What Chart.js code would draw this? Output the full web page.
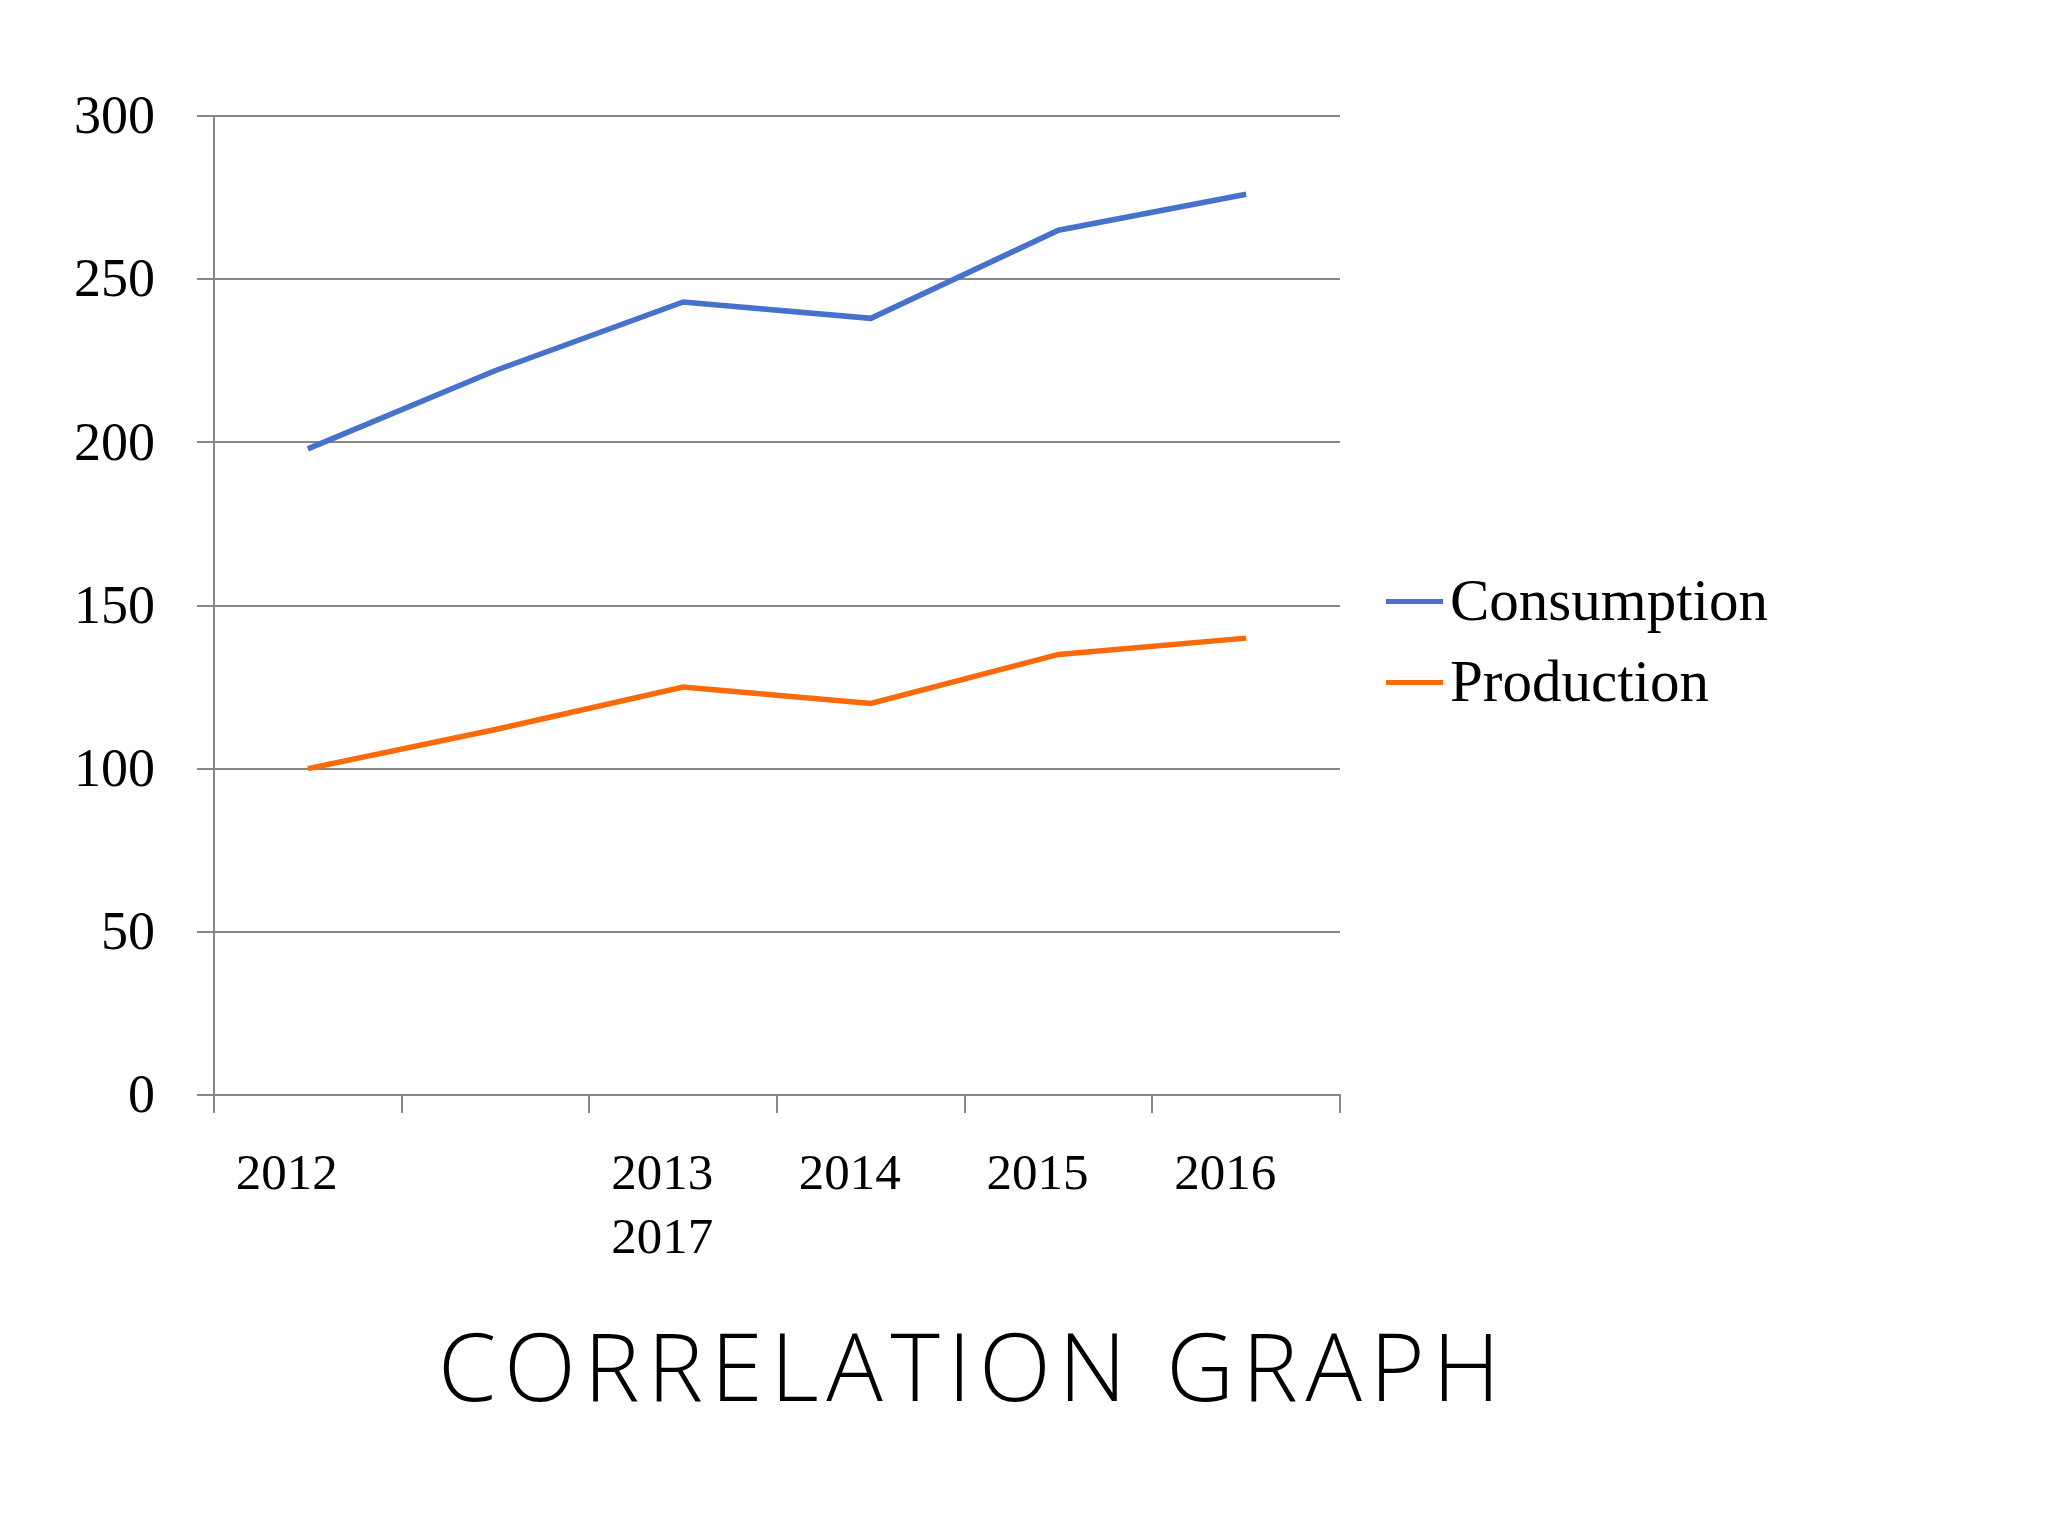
<!DOCTYPE html>
<html>
<head>
<meta charset="utf-8">
<title>Correlation graph</title>
<script src="https://cdn.jsdelivr.net/npm/chart.js@4/dist/chart.umd.min.js"></script>
<style>
  html, body { margin: 0; padding: 0; background: #fff; }
  #wrap { position: relative; width: 2048px; height: 1536px; overflow: hidden; }
  #chart { position: absolute; left: 0; top: 0; width: 2048px; height: 1536px; }
  .legend-row { position: absolute; left: 1386px; height: 58px; }
  .legend-row .swatch { position: absolute; left: 0; width: 57px; height: 5px; }
  .legend-row .label {
    position: absolute; left: 64px; top: 0;
    font-family: "Liberation Serif", serif; font-size: 59px; line-height: 58px;
    color: #000; white-space: nowrap;
  }
  #title {
    position: absolute; left: 438px; top: 1318px;
    font-family: "Open Sans", sans-serif; font-weight: 300; font-size: 94px; line-height: 94px;
    color: #000; white-space: nowrap;
  }
</style>
</head>
<body>
<div id="wrap">
  <canvas id="chart" width="2048" height="1536"></canvas>
  <div id="legend"></div>
  <div id="title">CORRELATION GRAPH</div>
</div>
<script>
  const categories = ['2012', '', ['2013', '2017'], '2014', '2015', '2016'];
  const consumption = [198, 222, 243, 238, 265, 276];
  const production = [100, 112, 125, 120, 135, 140];
  const seriesNames = ['Consumption', 'Production'];
  const seriesColors = ['#4672CC', '#FB6A0A'];

  const gridColor = '#878787';

  function buildLegend() {
    const legend = document.getElementById('legend');
    const rowTops = [571, 652];
    seriesNames.forEach((name, i) => {
      const row = document.createElement('div');
      row.className = 'legend-row';
      row.style.top = rowTops[i] + 'px';
      const swatch = document.createElement('div');
      swatch.className = 'swatch';
      swatch.style.top = '28px';
      swatch.style.background = seriesColors[i];
      const label = document.createElement('div');
      label.className = 'label';
      label.textContent = name;
      row.appendChild(swatch);
      row.appendChild(label);
      legend.appendChild(row);
    });
  }

  // spread the title so it spans the same width as the picture
  function fitTitle() {
    const el = document.getElementById('title');
    const target = 1062;
    const text = el.textContent;
    el.style.letterSpacing = '0px';
    const natural = el.getBoundingClientRect().width;
    const gaps = text.length - 1;
    el.style.letterSpacing = ((target - natural) / gaps).toFixed(2) + 'px';
  }

  const ctx = document.getElementById('chart');
  new Chart(ctx, {
    type: 'line',
    data: {
      labels: categories,
      datasets: [
        {
          label: seriesNames[0],
          data: consumption,
          borderColor: seriesColors[0],
          backgroundColor: seriesColors[0],
          borderWidth: 5.5,
          pointRadius: 0,
          tension: 0,
        },
        {
          label: seriesNames[1],
          data: production,
          borderColor: seriesColors[1],
          backgroundColor: seriesColors[1],
          borderWidth: 5.5,
          pointRadius: 0,
          tension: 0,
        },
      ],
    },
    options: {
      responsive: false,
      devicePixelRatio: 1,
      animation: false,
      layout: {
        padding: { left: 0, top: 116, right: 708, bottom: 0 },
      },
      plugins: {
        legend: { display: false },
        tooltip: { enabled: false },
        title: { display: false },
      },
      scales: {
        x: {
          offset: true,
          grid: {
            offset: true,
            drawOnChartArea: false,
            color: gridColor,
            lineWidth: 2,
            tickLength: 18,
          },
          border: { color: gridColor, width: 2 },
          ticks: {
            color: '#000',
            padding: 30,
            labelOffset: -21,
            maxRotation: 0,
            autoSkip: false,
            font: { family: 'Liberation Serif', size: 51, lineHeight: 1.26 },
          },
          afterFit: (scale) => {
            scale.height = 1536 - 1095;
          },
        },
        y: {
          min: 0,
          max: 300,
          grid: {
            color: gridColor,
            lineWidth: 2,
            tickLength: 17,
          },
          border: { color: gridColor, width: 2 },
          ticks: {
            stepSize: 50,
            color: '#000',
            padding: 42,
            labelOffset: 3,
            font: { family: 'Liberation Serif', size: 54 },
          },
          afterFit: (scale) => {
            scale.width = 214;
          },
        },
      },
    },
  });

  buildLegend();
  fitTitle();
</script>
</body>
</html>
